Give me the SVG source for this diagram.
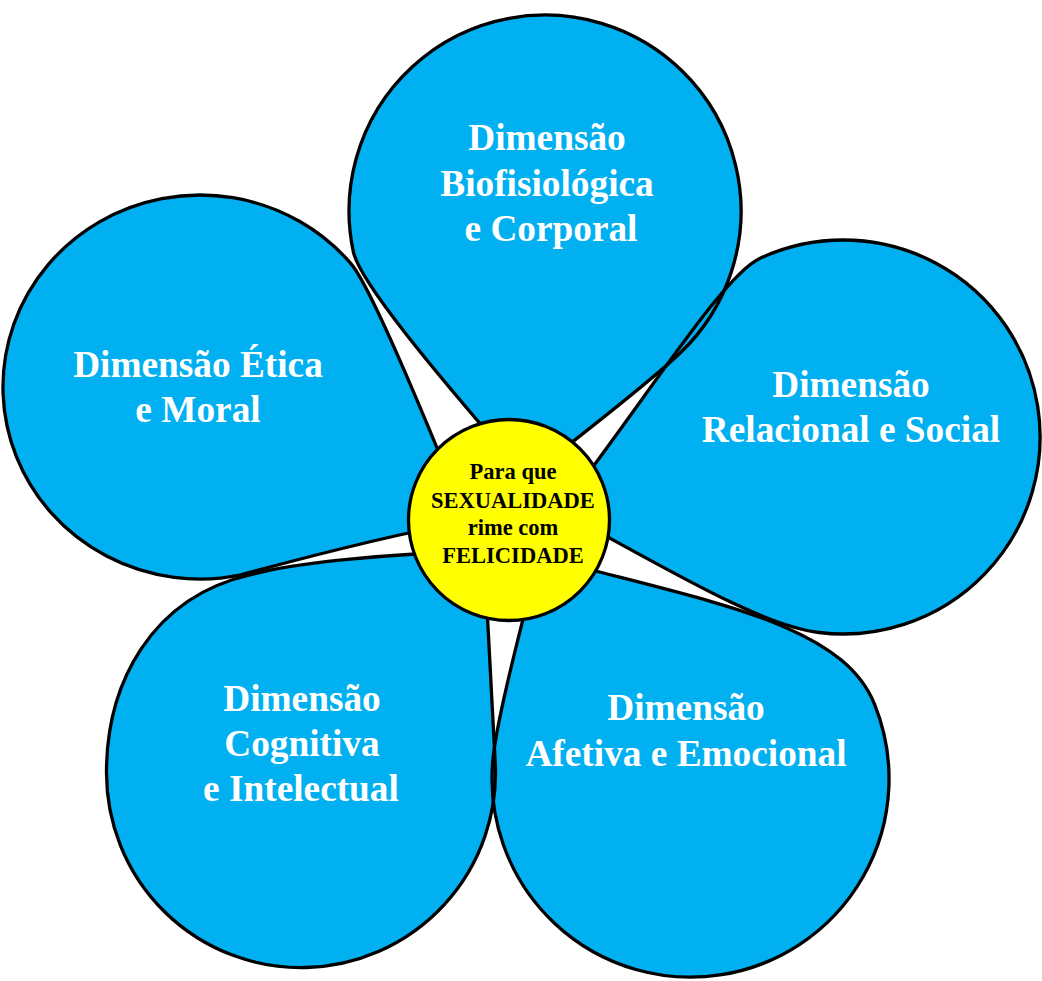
<svg xmlns="http://www.w3.org/2000/svg" xmlns:xlink="http://www.w3.org/1999/xlink" width="1042" height="981" viewBox="0 0 1042 981">
<style>
.pfill{fill:#00B0F0;stroke:none}
.pline{fill:none;stroke:#000;stroke-width:3.3;stroke-linejoin:round}
.pt{font-family:"Liberation Serif","Times New Roman",serif;font-weight:bold;font-size:37.3px;fill:#fff;text-anchor:middle}
.ct{font-family:"Liberation Serif","Times New Roman",serif;font-weight:bold;font-size:22.5px;fill:#000;text-anchor:middle}
</style>
<defs>
<path id="p-top" d="M 681.2 352 A 196 196 0 1 0 353.3 251.7 C 359.5 281 428.6 364.9 527 478 C 565.6 446.3 645.2 386.8 681.2 352 Z"/>
<path id="p-right" d="M 759.7 258.5 A 197 197 0 1 1 819 632.5 C 759.4 625.2 665.6 567.9 560 511 C 650.9 391.8 723.5 275.4 759.7 258.5 Z"/>
<path id="p-bright" d="M 874.5 704.1 A 198.5 198.5 0 1 1 492.8 761.2 C 495.8 721.4 524.4 614.2 539 556 C 702.9 601.2 840.8 620.7 874.5 704.1 Z"/>
<path id="p-bleft" d="M 484 551 C 384 553.8 290.3 563.3 251.9 574.5 C 150 597 106.5 685 106.5 772.5 A 194.5 194.5 0 1 0 495.2 762.3 L 484 551 Z"/>
<path id="p-left" d="M 350.9 263.6 A 197 192 0 1 0 241 574.8 C 288 562 388.4 535.7 467 521 C 421.8 409.9 370.5 286.3 350.9 263.6 Z"/>
</defs>
<rect width="1042" height="981" fill="#fff"/>
<g id="petal-top">
<use xlink:href="#p-top" href="#p-top" class="pfill"/>
</g>
<g id="petal-right">
<use xlink:href="#p-right" href="#p-right" class="pfill"/>
</g>
<g id="petal-bottom-right">
<use xlink:href="#p-bright" href="#p-bright" class="pfill"/>
</g>
<g id="petal-bottom-left">
<use xlink:href="#p-bleft" href="#p-bleft" class="pfill"/>
</g>
<g id="petal-left">
<use xlink:href="#p-left" href="#p-left" class="pfill"/>
</g>
<g id="petal-outlines">
<use xlink:href="#p-top" href="#p-top" class="pline"/>
<use xlink:href="#p-right" href="#p-right" class="pline"/>
<use xlink:href="#p-bright" href="#p-bright" class="pline"/>
<use xlink:href="#p-bleft" href="#p-bleft" class="pline"/>
<use xlink:href="#p-left" href="#p-left" class="pline"/>
</g>
<g id="labels">
<text class="pt" x="547" y="150">Dimensão</text>
<text class="pt" x="547" y="196">Biofisiológica</text>
<text class="pt" x="551" y="241">e Corporal</text>
<text class="pt" x="851" y="397">Dimensão</text>
<text class="pt" x="851" y="442">Relacional e Social</text>
<text class="pt" x="686" y="720">Dimensão</text>
<text class="pt" x="686" y="766">Afetiva e Emocional</text>
<text class="pt" x="302" y="711">Dimensão</text>
<text class="pt" x="302" y="756">Cognitiva</text>
<text class="pt" x="301" y="801">e Intelectual</text>
<text class="pt" x="198" y="377">Dimensão Ética</text>
<text class="pt" x="198" y="422">e Moral</text>
</g>
<g id="center">
<circle cx="509" cy="520" r="100.5" fill="#FFFF00" stroke="#000" stroke-width="3.3"/>
<text class="ct" x="513" y="479">Para que</text>
<text class="ct" x="513" y="507.5">SEXUALIDADE</text>
<text class="ct" x="513" y="534.5">rime com</text>
<text class="ct" x="513" y="562.5">FELICIDADE</text>
</g>
</svg>
